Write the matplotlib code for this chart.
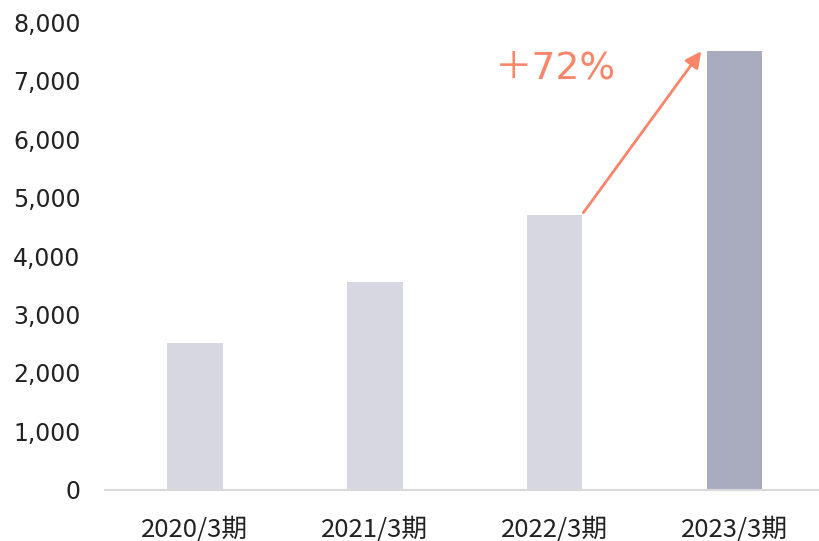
import matplotlib
matplotlib.use("Agg")
import matplotlib.pyplot as plt
from matplotlib.ticker import FuncFormatter

# fiscal years and values
periods = ["2020/3期", "2021/3期", "2022/3期", "2023/3期"]
values = [2520, 3550, 4700, 7500]
growth_label = "＋72%"

light = "#D7D7E1"
dark = "#A9ACBF"
coral = "#FA8569"

fig = plt.figure(figsize=(8.19, 5.41), dpi=100)
ax = fig.add_axes([0.128, 0.0943, 0.872, 0.865])

colors = [light, light, light, dark]
x = list(range(len(periods)))
bw = 0.31
ax.bar(x, values, width=bw, color=colors, zorder=2)

ax.set_xlim(-0.5, 3.47)
ax.set_ylim(0, 8000)
ax.set_yticks(range(0, 8001, 1000))
ax.yaxis.set_major_formatter(FuncFormatter(lambda v, p: f"{int(v):,}"))
ax.set_xticks(x)
ax.set_xticklabels(periods, family=["Noto Sans CJK JP"], fontsize=18.5)

for s in ["top", "right", "left"]:
    ax.spines[s].set_visible(False)
ax.spines["bottom"].set_color("#D9D9D9")
ax.spines["bottom"].set_linewidth(1.5)
ax.tick_params(axis="y", length=0, pad=17.5, labelsize=17, labelcolor="#222222")
ax.tick_params(axis="x", length=0, pad=19, labelcolor="#222222")

# growth arrow from the 2022 bar to the 2023 bar
ax.annotate("", xy=(3 - bw / 2 - 0.03, values[3]),
            xytext=(2 + bw / 2 + 0.005, values[2] + 40),
            arrowprops=dict(arrowstyle="-|>", color=coral, lw=2,
                            mutation_scale=24, shrinkA=0, shrinkB=0))
ax.text(2.005, 7200, growth_label, color=coral, fontsize=27,
        family=["DejaVu Sans", "Noto Sans CJK JP"], ha="center", va="center")

fig.savefig("out.png", dpi=100)
